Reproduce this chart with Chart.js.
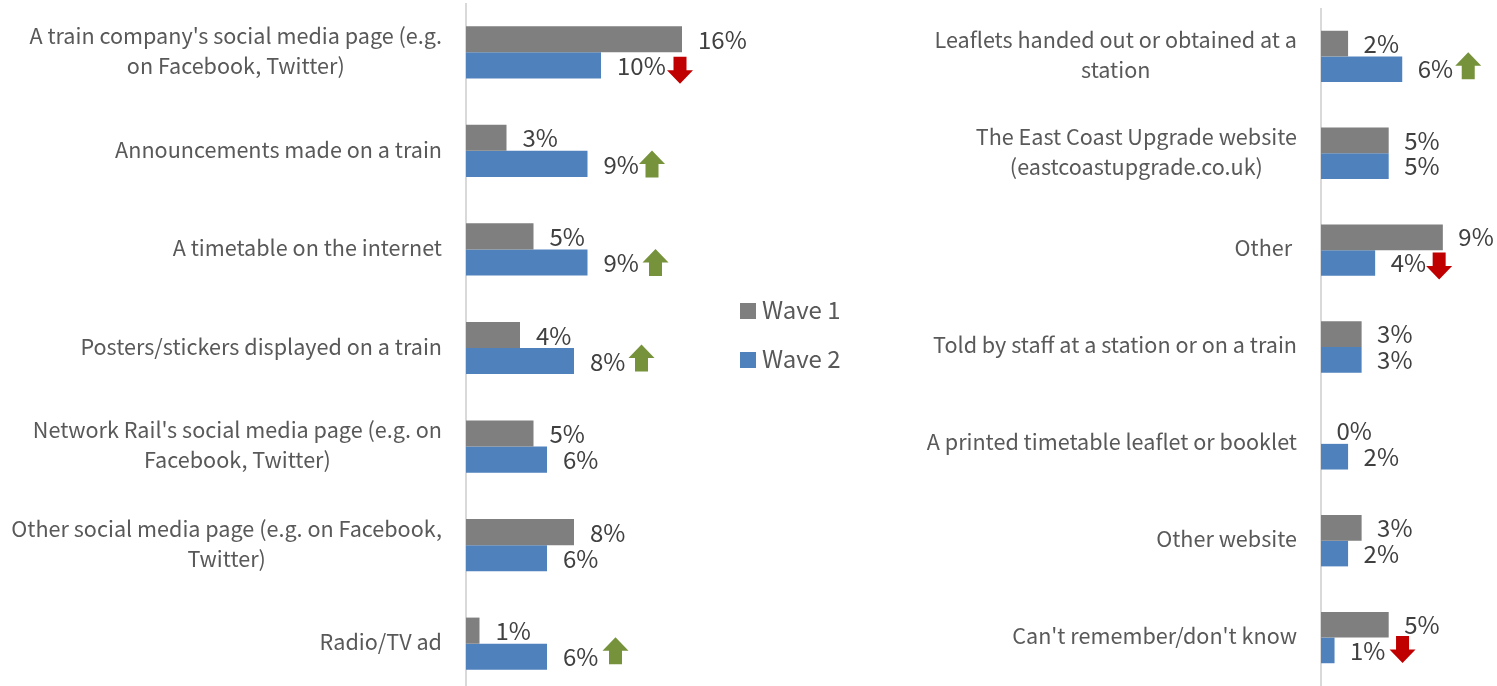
<!DOCTYPE html>
<html>
<head>
<meta charset="utf-8">
<title>Wave 1 vs Wave 2</title>
<script src="https://cdn.jsdelivr.net/npm/chart.js@4/dist/chart.umd.min.js"></script>
<style>
  html, body { margin: 0; padding: 0; background: #fff; }
  #wrap { position: relative; width: 1497px; height: 686px; overflow: hidden; }
  canvas { position: absolute; }
  #left { left: 0; top: 3px; }
  #right { left: 860px; top: 8px; }
  .key { position: absolute; left: 740px; font: 24px "Noto Sans CJK JP", sans-serif; color: #595959; line-height: 30px; }
  .key i { position: absolute; left: 0; top: 7px; width: 16px; height: 16px; }
  .key span { position: relative; top: -2px; margin-left: 22px; white-space: nowrap; }
</style>
</head>
<body>
<div id="wrap">
  <canvas id="left" width="763" height="690"></canvas>
  <canvas id="right" width="637" height="678"></canvas>
  <div class="key" style="top:296px"><i style="background:#7f7f7f"></i><span>Wave 1</span></div>
  <div class="key" style="top:345px"><i style="background:#4f81bd"></i><span>Wave 2</span></div>
</div>
<script>
/* sources, left panel */
const leftCats = [
  ["A train company's social media page (e.g.", "on Facebook, Twitter)"],
  ["Announcements made on a train"],
  ["A timetable on the internet"],
  ["Posters/stickers displayed on a train"],
  ["Network Rail's social media page (e.g. on", "Facebook, Twitter)"],
  ["Other social media page (e.g. on Facebook,", "Twitter)"],
  ["Radio/TV ad"]
];
const leftWave1 = [16, 3, 5, 4, 5, 8, 1];
const leftWave2 = [10, 9, 9, 8, 6, 6, 6];
const leftChange = ["down", "up", "up", "up", null, null, "up"];

/* sources, right panel */
const rightCats = [
  ["Leaflets handed out or obtained at a", "station"],
  ["The East Coast Upgrade website", "(eastcoastupgrade.co.uk)"],
  ["Other "],
  ["Told by staff at a station or on a train"],
  ["A printed timetable leaflet or booklet"],
  ["Other website"],
  ["Can't remember/don't know"]
];
const rightWave1 = [2, 5, 9, 3, 0, 3, 5];
const rightWave2 = [6, 5, 4, 3, 2, 2, 1];
const rightChange = ["up", null, "down", null, null, null, "down"];

const FONT = '"Noto Sans CJK JP", sans-serif';
const GREY = "#7f7f7f", BLUE = "#4f81bd";
const UP = "#76933c", DOWN = "#c00000";

function drawArrow(ctx, cx, cy, dir) {
  // 26 wide, 27 tall block arrow
  const s = dir === "up" ? 1 : -1;
  ctx.fillStyle = dir === "up" ? UP : DOWN;
  ctx.beginPath();
  ctx.moveTo(cx, cy - s * 13.5);
  ctx.lineTo(cx + 13, cy);
  ctx.lineTo(cx + 6.5, cy);
  ctx.lineTo(cx + 6.5, cy + s * 13.5);
  ctx.lineTo(cx - 6.5, cy + s * 13.5);
  ctx.lineTo(cx - 6.5, cy);
  ctx.lineTo(cx - 13, cy);
  ctx.closePath();
  ctx.fill();
}

// category text (lines centred inside a right-aligned block), value labels, change arrows
const annotate = {
  id: "annotate",
  afterDatasetsDraw(chart, args, opts) {
    const ctx = chart.ctx, yScale = chart.scales.y;
    ctx.save();
    ctx.textBaseline = "middle";

    ctx.font = "21.6px " + FONT;
    ctx.fillStyle = "#595959";
    ctx.textAlign = "center";
    chart.data.labels.forEach((lines, i) => {
      const widest = Math.max(...lines.map(l => ctx.measureText(l).width));
      const cx = yScale.right - 24 - widest / 2;
      const top = yScale.getPixelForValue(i) - 1 + opts.textDy - (lines.length - 1) * 15;
      lines.forEach((l, n) => ctx.fillText(l, cx, top + n * 30));
    });

    ctx.font = "24px " + FONT;
    ctx.fillStyle = "#404040";
    ctx.textAlign = "left";
    chart.data.datasets.forEach((ds, d) => {
      chart.getDatasetMeta(d).data.forEach((bar, i) => {
        ctx.fillText(ds.data[i] + "%", bar.x + opts.valueGap, bar.y + 1 + opts.textDy);
      });
    });

    const meta = chart.getDatasetMeta(1);
    opts.change.forEach((dir, i) => {
      if (!dir) return;
      const bar = meta.data[i], at = opts.nudge[i];
      drawArrow(ctx, bar.x + at[0], bar.y + at[1], dir);
    });
    ctx.restore();
  }
};

function panel(id, cats, w1, w2, change, nudge, axisX, xMax, textDy, valueGap) {
  return new Chart(document.getElementById(id), {
    type: "bar",
    plugins: [annotate],
    data: {
      labels: cats,
      datasets: [
        { label: "Wave 1", data: w1, backgroundColor: GREY },
        { label: "Wave 2", data: w2, backgroundColor: BLUE }
      ]
    },
    options: {
      indexAxis: "y",
      responsive: false,
      animation: false,
      layout: { padding: 0 },
      datasets: { bar: { categoryPercentage: 0.53, barPercentage: 1 } },
      plugins: {
        legend: { display: false },
        tooltip: { enabled: false },
        annotate: { change, nudge, textDy, valueGap }
      },
      scales: {
        x: { display: false, min: 0, max: xMax },
        y: {
          afterFit(scale) { scale.width = axisX; },
          ticks: { display: false },
          grid: { display: false },
          border: { display: true, color: "#d9d9d9", width: 2 }
        }
      }
    }
  });
}

panel("left", leftCats, leftWave1, leftWave2, leftChange,
  [[79, 5], [64.5, 0], [68, 0], [67.5, -3], [0, 0], [0, 0], [68.5, -6]], 466, 22, -0.5, 16);
panel("right", rightCats, rightWave1, rightWave2, rightChange,
  [[66, -3.5], [0, 0], [64, 3], [0, 0], [0, 0], [0, 0], [68, -1]], 461, 13, -1, 15.5);
</script>
</body>
</html>
